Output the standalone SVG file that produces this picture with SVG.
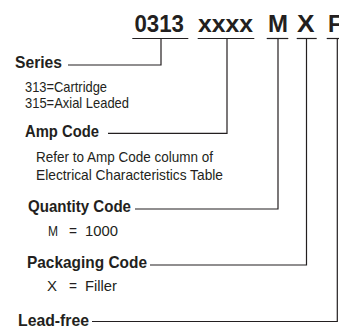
<svg xmlns="http://www.w3.org/2000/svg" width="339" height="330" viewBox="0 0 339 330">
<style>
text{font-family:"Liberation Sans Narrow","Liberation Sans",Arial,sans-serif;fill:#231f20}
.t{font-size:23px;font-weight:bold}
.h{font-size:17px;font-weight:bold}
.n{font-size:14.5px}
.c line,.c polyline{stroke:#231f20;stroke-width:1.2;fill:none}
</style>
<rect width="339" height="330" fill="#fff"/>
<g id="title">
<text class="t" x="134.5" y="31.5" textLength="49.5" lengthAdjust="spacingAndGlyphs">0313</text>
<text class="t" x="198" y="31.5" textLength="55" lengthAdjust="spacingAndGlyphs">xxxx</text>
<text class="t" x="268" y="31.5" textLength="20" lengthAdjust="spacingAndGlyphs">M</text>
<text class="t" x="297" y="31.5" textLength="17.5" lengthAdjust="spacingAndGlyphs">X</text>
<text class="t" x="328" y="31.5" textLength="14" lengthAdjust="spacingAndGlyphs">F</text>
</g>
<g id="series">
<text class="h" x="15" y="68.3" textLength="47" lengthAdjust="spacingAndGlyphs">Series</text>
<text class="n" x="25" y="91.8" textLength="82" lengthAdjust="spacingAndGlyphs">313=Cartridge</text>
<text class="n" x="25" y="107.5" textLength="104" lengthAdjust="spacingAndGlyphs">315=Axial Leaded</text>
</g>
<g id="amp">
<text class="h" x="25" y="136.7" textLength="74" lengthAdjust="spacingAndGlyphs">Amp Code</text>
<text class="n" x="36" y="161.7" textLength="177" lengthAdjust="spacingAndGlyphs">Refer to Amp Code column of</text>
<text class="n" x="36" y="180" textLength="187" lengthAdjust="spacingAndGlyphs">Electrical Characteristics Table</text>
</g>
<g id="quantity">
<text class="h" x="28" y="212.3" textLength="103" lengthAdjust="spacingAndGlyphs">Quantity Code</text>
<text class="n" x="48" y="235.7" textLength="10" lengthAdjust="spacingAndGlyphs">M</text>
<text class="n" x="69" y="235.7" textLength="8" lengthAdjust="spacingAndGlyphs">=</text>
<text class="n" x="85" y="235.7" textLength="33" lengthAdjust="spacingAndGlyphs">1000</text>
</g>
<g id="packaging">
<text class="h" x="27" y="267.7" textLength="120" lengthAdjust="spacingAndGlyphs">Packaging Code</text>
<text class="n" x="47" y="291" textLength="10" lengthAdjust="spacingAndGlyphs">X</text>
<text class="n" x="69" y="291" textLength="8" lengthAdjust="spacingAndGlyphs">=</text>
<text class="n" x="85" y="291" textLength="32" lengthAdjust="spacingAndGlyphs">Filler</text>
</g>
<g id="leadfree">
<text class="h" x="18" y="326" textLength="71" lengthAdjust="spacingAndGlyphs">Lead-free</text>
</g>
<g class="c" id="connectors">
<line x1="132.3" y1="38.5" x2="188.3" y2="38.5"/>
<line x1="197.7" y1="38.5" x2="254.3" y2="38.5"/>
<line x1="266.7" y1="38.5" x2="288.3" y2="38.5"/>
<line x1="296.7" y1="38.5" x2="316.7" y2="38.5"/>
<line x1="326.7" y1="38.5" x2="339" y2="38.5"/>
<polyline points="161,38.5 161,65 68,65"/>
<polyline points="227,38.5 227,133.3 108,133.3"/>
<polyline points="278,38.5 278,209 135,209"/>
<polyline points="306.5,38.5 306.5,265 150,265"/>
<polyline points="337.3,38.5 337.3,321.5 92,321.5"/>
</g>
</svg>
